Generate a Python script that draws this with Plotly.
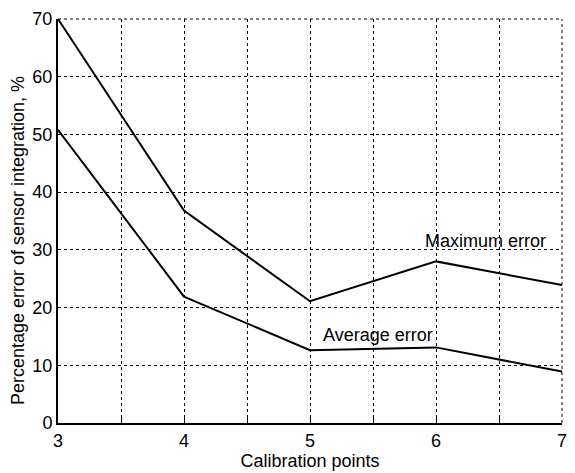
import plotly.graph_objects as go

calib_points = [3, 4, 5, 6, 7]
max_error = [70, 36.8, 21.1, 28.0, 23.9]
avg_error = [50.8, 21.9, 12.6, 13.1, 8.9]

x_tick_vals = [3, 3.5, 4, 4.5, 5, 5.5, 6, 6.5, 7]
x_tick_text = ["3", "", "4", "", "5", "", "6", "", "7"]
y_tick_vals = [0, 10, 20, 30, 40, 50, 60, 70]

font = "Liberation Sans, Arial, sans-serif"

fig = go.Figure()
fig.add_trace(go.Scatter(x=calib_points, y=max_error, mode="lines",
                         line=dict(color="black", width=2), showlegend=False))
fig.add_trace(go.Scatter(x=calib_points, y=avg_error, mode="lines",
                         line=dict(color="black", width=2), showlegend=False))

fig.add_annotation(x=6.39, y=31.6, text="Maximum error", showarrow=False,
                   font=dict(family=font, size=18, color="black"))
fig.add_annotation(x=5.54, y=15.3, text="Average error", showarrow=False,
                   font=dict(family=font, size=18, color="black"))

# y-axis title as rotated annotation (positioned like the reference)
fig.add_annotation(xref="paper", yref="paper", x=-0.078, y=0.452,
                   text="Percentage error of sensor integration, %",
                   textangle=-90, showarrow=False, xanchor="center", yanchor="middle",
                   font=dict(family=font, size=18, color="black"))

# dotted frame on top and right
fig.add_shape(type="line", xref="paper", yref="paper", x0=1, x1=1, y0=0, y1=1,
              line=dict(color="black", width=1, dash="dot"))
fig.add_shape(type="line", xref="paper", yref="paper", x0=0, x1=1, y0=1, y1=1,
              line=dict(color="black", width=1, dash="dot"))

fig.update_layout(
    width=575, height=473,
    margin=dict(l=58, r=8, t=19, b=49),
    paper_bgcolor="white", plot_bgcolor="white",
    font=dict(family=font, size=17, color="black"),
    xaxis=dict(range=[3, 7], tickvals=x_tick_vals, ticktext=x_tick_text,
               showgrid=True, gridcolor="black", griddash="dot", gridwidth=1,
               showline=True, linecolor="black", linewidth=2,
               ticks="inside", ticklen=5, tickcolor="black",
               title=dict(text="Calibration points", font=dict(size=18), standoff=2),
               zeroline=False, tickfont=dict(size=18)),
    yaxis=dict(range=[0, 70], tickvals=y_tick_vals,
               showgrid=True, gridcolor="black", griddash="dot", gridwidth=1,
               showline=True, linecolor="black", linewidth=2,
               ticks="", zeroline=False, tickfont=dict(size=18)),
)

fig.write_html("out.html")
